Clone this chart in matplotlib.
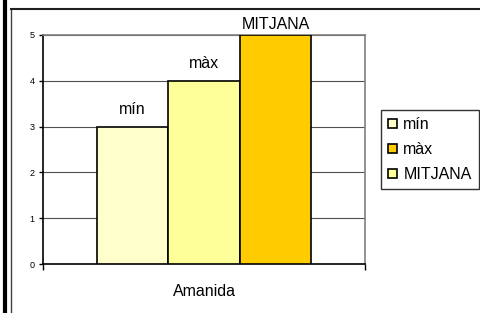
import matplotlib.pyplot as plt
from matplotlib.patches import Patch
from matplotlib.lines import Line2D

category = "Amanida"
series = ["mín", "màx", "MITJANA"]
values = [3, 4, 5]
bar_colors = ["#FFFFCC", "#FFFF99", "#FFCC00"]
legend_colors = ["#FFFFCC", "#FFCC00", "#FFFF99"]
yticks = [0, 1, 2, 3, 4, 5]

W, H = 480, 313
FONT = "Liberation Sans"
fig = plt.figure(figsize=(W / 100, H / 100), dpi=100)
fig.patch.set_facecolor("white")

# outer frame
fig.add_artist(Line2D([4.5 / W, 4.5 / W], [0, 1], transform=fig.transFigure,
                      color="black", lw=3))
fig.add_artist(Line2D([10.5 / W, 10.5 / W], [0, 1 - 9 / H], transform=fig.transFigure,
                      color="#404040", lw=1))
fig.add_artist(Line2D([10.5 / W, 1], [1 - 9 / H, 1 - 9 / H], transform=fig.transFigure,
                      color="#202020", lw=1.5))

ax = fig.add_axes([43 / W, 1 - 264 / H, (365 - 43) / W, (264 - 35) / H])

bw = 0.222
offsets = [-bw, 0, bw]
ymax = yticks[-1]
for name, v, c, off in zip(series, values, bar_colors, offsets):
    ax.bar(off, v, width=bw, color=c, edgecolor="black", linewidth=1.2, zorder=3)
    ax.text(off, min(v + 0.28, ymax + 0.13), name, ha="center", va="baseline",
            fontsize=11.5, family=FONT, zorder=4, clip_on=False)

ax.set_xlim(-0.5, 0.5)
ax.set_ylim(0, ymax)
ax.set_yticks(yticks)
ax.set_yticklabels([str(t) for t in yticks], fontsize=6.5, family=FONT)
ax.yaxis.grid(True, color="#505050", lw=0.8, zorder=0)
ax.set_xticks([-0.5, 0.5])
ax.set_xticklabels(["", ""])
ax.tick_params(axis="x", length=4, width=1, direction="out")
ax.tick_params(axis="y", length=3, width=1, direction="out", pad=3)
ax.set_xlabel(category, fontsize=11.5, family=FONT, labelpad=7)
for s in ["left", "bottom"]:
    ax.spines[s].set_color("black")
    ax.spines[s].set_linewidth(1.2)
for s in ["top", "right"]:
    ax.spines[s].set_color("#808080")
    ax.spines[s].set_linewidth(1.2)

handles = [Patch(facecolor=c, edgecolor="black", linewidth=1.2) for c in legend_colors]
leg = fig.legend(handles, series, loc="upper left",
                 bbox_to_anchor=(381 / W, 1 - 110 / H),
                 prop={"family": FONT, "size": 11.5},
                 frameon=True, fancybox=False, handlelength=0.55, handleheight=0.55,
                 handletextpad=0.4, labelspacing=0.62, borderpad=0.45,
                 borderaxespad=0)
leg.get_frame().set_edgecolor("black")
leg.get_frame().set_linewidth(1)

fig.savefig("out.png", dpi=100)
